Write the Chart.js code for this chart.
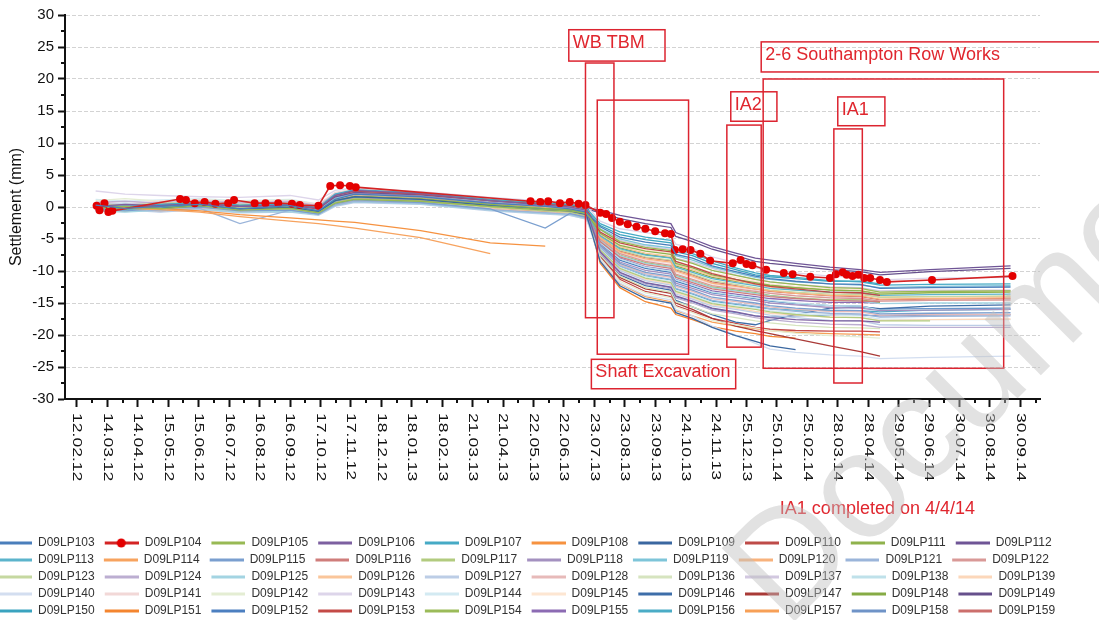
<!DOCTYPE html>
<html>
<head>
<meta charset="utf-8">
<title>D09LP settlement monitoring</title>
<script src="https://cdn.jsdelivr.net/npm/chart.js"></script>
<style>
  html, body { margin: 0; padding: 0; background: #fff; overflow: hidden; }
  #wrap { position: relative; width: 1099px; height: 620px; overflow: hidden; }
  #settlementChart { position: absolute; left: -12px; top: 0; }
</style>
</head>
<body>
<div id="wrap"><canvas id="settlementChart" width="1111" height="627"></canvas></div>
<script>
/** x axis: days after 12.02.12, one labelled tick every 31 days */
const tickStepDays = 31;
const tickLabels = [
    "12.02.12", "14.03.12", "14.04.12", "15.05.12", "15.06.12", "16.07.12", "16.08.12", "16.09.12",
    "17.10.12", "17.11.12", "18.12.12", "18.01.13", "18.02.13", "21.03.13", "21.04.13", "22.05.13",
    "22.06.13", "23.07.13", "23.08.13", "23.09.13", "24.10.13", "24.11.13", "25.12.13", "25.01.14",
    "25.02.14", "28.03.14", "28.04.14", "29.05.14", "29.06.14", "30.07.14", "30.08.14", "30.09.14",
];

/** survey dates (days after 12.02.12) shared by the levelling points */
const readingDays = [19, 49, 85, 125, 166, 217, 246, 263, 283, 350, 421, 477, 502, 519, 533, 553, 579, 605, 610, 627, 647, 671, 691, 706, 732, 767, 798, 818, 869, 951];

/** settlement (mm) per point */
const lp103 = [0.3, -0.2, 0.1, 0.4, -0.3, 0.2, -0.6, 1.2, 2.0, 1.6, 0.6, 0.1, -0.3, -0.8, -3.1, -4.7, -5.5, -6.0, -7.4, -8.0, -9.2, -10.1, -10.8, -11.2, -11.6, -12.0, -12.1, -12.7, -12.6, -12.5];
const lp105 = [-0.2, 0.1, -0.3, 0.2, -0.5, -0.2, -0.9, 0.6, 1.2, 0.9, 0.1, -0.4, -0.6, -1.0, -3.5, -5.4, -6.3, -6.8, -8.1, -8.8, -9.9, -10.7, -11.3, -11.7, -12.1, -12.6, -12.7, -13.3, -13.2, -13.1];
const lp106 = [0.1, 0.4, 0.2, 0.5, 0.1, 0.3, -0.2, 1.8, 2.6, 2.1, 1.0, 0.3, 0.0, -0.5, -7.0, -10.2, -11.8, -12.5, -13.9, -14.7, -15.8, -16.4, -17.0, -17.3, -17.6, -17.8, -17.8, -18.0, null, null];
const lp107 = [0.3, 0.1, 0.4, 0.7, 0.3, 0.5, -0.1, 2.0, 2.7, 2.2, 1.2, 0.6, 0.4, -0.2, -2.6, -3.9, -4.7, -5.2, -6.6, -7.3, -8.4, -9.5, -10.3, -10.7, -11.0, -11.5, -11.7, -12.2, -12.1, -12.0];
const lp108 = [0.2, -0.1, -0.2, -0.6, -1.2, -1.7, -2.0, -2.2, -2.4, -3.7, -5.6, -6.1, null, null, null, null, null, null, null, null, null, null, null, null, null, null, null, null, null, null];
const lp109 = [-0.1, 0.1, -0.2, 0.2, -0.3, -0.1, -0.7, 1.0, 1.6, 1.2, 0.2, -0.4, -0.6, -1.2, -8.5, -12.3, -14.3, -15.0, -16.5, -17.4, -18.8, -20.1, -21.0, -21.7, -22.3, null, null, null, null, null];
const lp110 = [0.2, 0.0, 0.2, 0.6, 0.1, 0.3, -0.3, 1.8, 2.5, 2.0, 1.0, 0.4, 0.2, -0.3, -3.9, -5.6, -6.5, -7.0, -8.5, -9.3, -10.4, -11.3, -12.0, -12.4, -12.8, -13.3, -13.4, -13.8, null, null];
const lp111 = [0.0, -0.3, 0.1, 0.3, -0.2, 0.0, -0.6, 1.0, 1.7, 1.3, 0.4, -0.2, -0.4, -0.9, -4.1, -6.0, -6.9, -7.4, -8.8, -9.5, -10.6, -11.3, -11.8, -12.2, -12.6, -13.0, -13.1, -13.6, -13.4, -13.3];
const lp112 = [0.2, 0.0, 0.3, 0.6, 0.2, 0.4, -0.2, 1.6, 2.3, 1.9, 1.0, 0.5, 0.4, -0.1, -0.5, -1.3, -2.0, -2.6, -4.0, -5.0, -6.2, -7.2, -8.0, -8.3, -8.8, -9.4, -9.8, -10.2, -9.8, -9.2];
const lp113 = [-0.1, -0.4, -0.1, 0.2, -0.3, -0.1, -0.7, 0.9, 1.6, 1.2, 0.3, -0.3, -0.5, -1.1, -4.5, -6.5, -7.5, -8.0, -9.4, -10.2, -11.2, -11.8, -12.3, -12.7, -13.0, -13.3, -13.4, -13.8, -13.7, -13.6];
const lp114 = [0.0, -0.3, -0.4, -0.8, -1.5, -2.2, -2.6, -2.9, -3.3, -4.8, -7.3, null, null, null, null, null, null, null, null, null, null, null, null, null, null, null, null, null, null, null];
const lp115 = [-0.3, -0.6, -0.2, 0.0, -0.6, -0.5, -1.1, 0.5, 1.1, 0.7, -0.3, -3.3, -1.0, -1.6, -6.0, -8.8, -10.2, -10.8, -12.2, -13.0, -14.1, -14.6, -15.0, -15.4, -15.8, -16.1, -16.2, -16.7, -16.6, -16.5];
const lp116 = [0.3, 0.1, 0.4, 0.6, 0.2, 0.5, -0.1, 1.9, 2.6, 2.0, 1.1, 0.5, 0.3, -0.3, -5.4, -7.8, -9.0, -9.6, -11.0, -11.8, -12.8, -13.3, -13.7, -14.0, -14.3, -14.6, -14.7, -14.8, null, null];
const lp117 = [-0.2, -0.4, -0.1, 0.1, -0.4, -0.3, -0.9, 0.7, 1.3, 0.9, 0.0, -0.6, -0.8, -1.4, -6.7, -9.6, -11.1, -11.8, -13.2, -14.0, -15.1, -15.6, -16.0, -16.4, -16.8, -17.2, -17.3, -17.8, -17.8, null];
const lp118 = [0.2, -0.1, 0.3, 0.5, 0.1, 0.3, -0.3, 1.6, 2.2, 1.7, 0.7, 0.1, -0.1, -0.7, -5.9, -8.6, -9.9, -10.5, -11.9, -12.7, -13.7, -14.2, -14.6, -15.0, -15.3, -15.7, -15.8, -16.2, -16.1, -16.0];
const lp119 = [-0.1, 0.2, 0.0, 0.3, -0.2, 0.1, -0.5, 1.4, 2.1, 1.7, 0.7, 0.2, -0.1, -0.7, -3.4, -5.0, -5.9, -6.4, -7.6, -8.3, -9.4, -10.3, -11.0, -11.3, -11.7, -12.0, -12.2, -12.6, -12.4, -12.3];
const lp120 = [0.1, 0.3, 0.0, 0.4, 0.1, 0.2, -0.4, 1.3, 2.0, 1.5, 0.6, 0.0, -0.2, -0.8, -4.8, -7.0, -8.1, -8.6, -10.0, -10.8, -11.9, -12.4, -12.8, -13.1, -13.5, -13.8, -13.9, -14.4, -14.3, -14.2];
const lp121 = [-0.5, -0.3, -0.6, -0.2, -2.6, -0.5, -1.1, 0.3, 0.9, 0.6, -0.4, -0.9, -1.1, -1.7, -6.3, -9.2, -10.6, -11.3, -12.7, -13.5, -14.6, -15.1, -15.5, -15.9, -16.3, -16.6, -16.7, -17.2, -17.1, -17.0];
const lp122 = [-0.2, 0.0, -0.3, 0.1, -0.4, -0.2, -0.8, 0.8, 1.5, 1.1, 0.2, -0.4, -0.6, -1.2, -5.0, -7.3, -8.5, -9.1, -10.5, -11.3, -12.3, -12.8, -13.2, -13.5, -13.9, -14.2, -14.3, -14.7, -14.6, -14.5];
const lp123 = [0.5, 0.3, 0.6, 0.8, 0.4, 0.6, 0.0, 1.9, 2.4, 1.9, 0.9, 0.3, 0.1, -0.5, -4.6, -6.7, -7.8, -8.3, -9.7, -10.5, -11.5, -12.1, -12.6, -13.0, -13.3, -13.6, -13.7, -14.1, -14.0, -13.9];
const lp124 = [0.7, 0.9, 0.6, 0.9, 0.6, 0.8, 0.2, 2.0, 2.5, 2.0, 1.0, 0.4, 0.2, -0.4, -7.2, -10.4, -12.1, -12.8, -14.2, -15.0, -16.1, -16.7, -17.3, -17.6, -18.0, -18.3, -18.4, -18.8, -18.8, -18.8];
const lp125 = [-0.6, -0.8, -0.5, -0.3, -0.8, -0.7, -1.2, 0.2, 0.8, 0.5, -0.5, -1.0, -1.2, -1.8, -5.2, -7.6, -8.8, -9.4, -10.8, -11.6, -12.6, -13.1, -13.5, -13.9, -14.3, -14.6, -14.7, -15.1, -15.0, -15.0];
const lp126 = [-0.5, -0.3, -0.6, -0.2, -0.7, -0.5, -1.1, 0.4, 1.0, 0.6, -0.3, -0.8, -1.0, -1.6, -4.3, -6.2, -7.2, -7.7, -9.0, -9.8, -10.8, -11.5, -12.1, -12.5, -13.0, -13.4, -13.5, -14.1, -14.0, -14.0];
const lp127 = [-0.7, -0.5, -0.8, -0.4, -0.9, -0.8, -1.3, 0.1, 0.7, 0.4, -0.6, -1.1, -1.3, -1.9, -6.9, -9.9, -11.5, -12.2, -13.6, -14.4, -15.5, -16.0, -16.5, -16.9, -17.3, -17.7, -17.8, -18.4, -18.5, -18.5];
const lp128 = [0.0, 0.2, -0.1, 0.3, -0.1, 0.1, -0.5, 1.2, 1.8, 1.4, 0.4, -0.2, -0.4, -1.0, -6.2, -9.0, -10.4, -11.0, -12.4, -13.2, -14.3, -14.8, -15.2, -15.6, -16.0, -16.3, -16.4, -16.9, -16.8, -16.8];
const lp136 = [-0.5, -0.7, -0.4, -0.2, -0.7, -0.6, -1.2, 0.3, 0.9, 0.5, -0.4, -1.0, -1.2, -1.8, -7.5, -10.8, -12.6, -13.3, -14.8, -15.6, -16.7, -17.3, -17.8, -18.1, -18.5, -18.8, -18.9, -19.0, null, null];
const lp137 = [0.6, 0.4, 0.8, 1.0, 0.7, 0.9, 0.2, 2.1, 2.6, 2.0, 1.1, 0.5, 0.2, -0.4, -3.6, -5.2, -6.1, -6.6, -8.0, -8.6, -9.6, -10.6, -11.3, -11.7, -12.1, -12.5, -12.6, -13.1, -13.0, -13.0];
const lp138 = [0.4, 0.6, 0.3, 0.7, 0.4, 0.5, -0.1, 1.7, 2.3, 1.8, 0.8, 0.3, 0.1, -0.5, -5.6, -8.1, -9.4, -10.0, -11.4, -12.2, -13.3, -13.8, -14.2, -14.6, -15.0, -15.4, -15.5, -16.1, -16.0, -16.0];
const lp139 = [0.3, 0.5, 0.2, 0.6, 0.3, 0.4, -0.2, 1.5, 2.1, 1.6, 0.6, 0.0, -0.2, -0.8, -6.8, -9.8, -11.3, -12.0, -13.4, -14.2, -15.3, -15.8, -16.3, -16.6, -16.9, -17.2, -17.3, -17.7, -17.6, -17.5];
const lp140 = [-0.6, -0.4, -0.7, -0.3, -0.8, -0.6, -1.2, 0.2, 0.8, 0.5, -0.5, -1.0, -1.3, -1.9, -8.2, -11.9, -13.8, -14.5, -16.0, -17.0, -18.6, -20.0, -21.3, -22.2, -22.7, -23.1, -23.3, -23.7, -23.5, -23.3];
const lp141 = [0.8, 0.5, 0.9, 1.1, 0.8, 1.0, 0.4, 2.3, 2.8, 2.2, 1.2, 0.6, 0.4, -0.2, -4.9, -7.2, -8.3, -8.8, -10.2, -11.0, -12.0, -12.6, -13.0, -13.4, -13.8, -14.1, -14.2, -14.7, -14.6, -14.6];
const lp142 = [1.0, 1.3, 0.9, 1.2, 0.9, 1.1, 0.4, 2.2, 2.6, 2.1, 1.1, 0.4, 0.2, -0.4, -8.0, -11.6, -13.4, -14.2, -15.6, -16.5, -17.7, -18.4, -18.9, -19.3, -19.7, -20.1, -20.3, -20.5, null, null];
const lp143 = [2.5, 2.0, 1.8, 1.6, 1.5, 1.8, 1.1, 2.6, 3.0, 2.4, 1.5, 0.9, 0.7, 0.2, -2.2, -3.4, -4.0, -4.5, -5.8, -6.5, -7.8, -8.7, -9.5, -9.9, -10.3, -10.8, -11.0, -11.4, -11.1, -11.0];
const lp144 = [1.2, 0.9, 1.1, 1.3, 1.0, 1.2, 0.5, 2.0, 2.4, 1.9, 0.9, 0.2, -0.1, -0.8, -6.5, -9.4, -10.9, -11.6, -13.0, -13.8, -14.9, -15.4, -15.8, -16.2, -16.6, -16.9, -17.0, -17.5, -17.6, -17.6];
const lp145 = [-0.4, -0.6, -0.3, 0.0, -0.5, -0.4, -1.0, 0.5, 1.1, 0.8, -0.1, -0.6, -0.9, -1.4, -4.0, -5.9, -6.7, -7.2, -8.6, -9.3, -10.3, -11.0, -11.6, -12.0, -12.4, -12.8, -12.9, -13.4, -13.3, -13.2];
const lp146 = [0.0, -0.3, 0.1, 0.3, -0.2, 0.0, -0.6, 1.1, 1.8, 1.4, 0.4, -0.2, -0.4, -1.0, -7.4, -10.6, -12.3, -13.0, -14.6, -15.6, -16.8, -18.0, -18.4, -17.7, -16.8, -15.8, -15.6, -15.9, -15.5, -15.3];
const lp147 = [0.2, 0.0, 0.3, 0.5, 0.1, 0.3, -0.3, 1.7, 2.4, 1.9, 0.9, 0.3, 0.1, -0.5, -7.6, -11.0, -12.8, -13.5, -15.0, -16.0, -17.4, -18.6, -19.3, -19.8, -20.6, -21.7, -22.6, -23.3, null, null];
const lp148 = [0.2, 0.4, 0.1, 0.5, 0.2, 0.3, -0.2, 1.5, 2.2, 1.7, 0.8, 0.2, 0.0, -0.6, -4.4, -6.4, -7.4, -7.9, -9.2, -10.0, -11.0, -11.6, -12.0, -12.3, -12.6, -12.9, -13.0, -13.4, -13.2, -13.1];
const lp149 = [0.0, 0.3, 0.1, 0.5, 0.3, 0.2, -0.3, 1.9, 2.5, 2.0, 0.9, 0.4, 0.2, -0.3, -0.9, -1.8, -2.6, -3.2, -4.6, -5.4, -6.6, -7.6, -8.5, -8.8, -9.2, -9.8, -10.1, -10.6, -10.1, -9.6];
const lp150 = [0.1, -0.2, 0.2, 0.5, 0.0, 0.3, -0.3, 1.7, 2.4, 1.9, 0.9, 0.3, 0.1, -0.5, -2.9, -4.3, -5.1, -5.6, -7.0, -7.6, -8.8, -9.8, -10.6, -10.9, -11.2, -11.6, -11.6, -12.0, null, null];
const lp151 = [0.0, -0.2, 0.1, 0.4, -0.1, 0.1, -0.5, 1.2, 1.8, 1.4, 0.4, -0.2, -0.4, -1.0, -8.8, -12.6, -14.8, -15.8, -16.8, -17.6, -18.7, -19.4, -19.8, -20.2, -20.5, null, null, null, null, null];
const lp152 = [-0.1, 0.1, -0.2, 0.2, -0.3, -0.1, -0.7, 1.0, 1.7, 1.3, 0.3, -0.3, -0.5, -1.1, -5.7, -8.3, -9.6, -10.2, -11.6, -12.4, -13.4, -13.9, -14.3, -14.7, -15.1, -15.4, -15.5, -16.0, -15.9, -15.8];
const lp153 = [-0.3, -0.5, -0.2, 0.1, -0.4, -0.3, -0.9, 0.6, 1.2, 0.8, -0.1, -0.7, -0.9, -1.5, -7.8, -11.3, -13.2, -14.0, -15.4, -16.3, -17.4, -18.2, -18.8, -19.1, -19.3, -19.4, -19.4, -19.5, null, null];
const lp154 = [0.0, 0.2, -0.1, 0.3, 0.0, 0.1, -0.5, 1.2, 1.9, 1.4, 0.5, -0.1, -0.3, -0.9, -5.1, -7.5, -8.7, -9.3, -10.7, -11.5, -12.5, -13.0, -13.4, -13.8, -14.2, -14.5, -14.5, -14.9, null, null];
const lp155 = [-0.4, -0.2, -0.5, -0.1, -0.6, -0.4, -1.0, 0.6, 1.3, 0.9, 0.0, -0.6, -0.8, -1.4, -5.5, -8.0, -9.3, -9.9, -11.3, -12.1, -13.1, -13.6, -14.0, -14.3, -14.6, -14.9, -14.9, -15.0, null, null];
const lp156 = [0.1, -0.1, 0.2, 0.4, 0.0, 0.2, -0.4, 1.3, 1.9, 1.5, 0.5, -0.1, -0.3, -0.9, -6.4, -9.3, -10.8, -11.4, -12.8, -13.6, -14.7, -15.2, -15.6, -15.9, -16.1, -16.2, -16.2, -16.4, -16.1, -16.0];
const lp157 = [0.4, 0.2, 0.5, 0.7, 0.3, 0.5, -0.1, 1.8, 2.4, 1.9, 0.9, 0.3, 0.1, -0.5, -8.3, -12.0, -14.0, -14.8, -16.2, -17.0, -18.0, -18.6, -19.0, -19.3, -19.6, -19.8, -19.9, -20.0, null, null];
const lp158 = [-0.2, 0.0, -0.3, 0.1, -0.4, -0.2, -0.8, 0.9, 1.5, 1.1, 0.2, -0.4, -0.6, -1.2, -7.1, -10.3, -11.9, -12.6, -14.0, -14.8, -15.9, -16.5, -17.0, -17.2, -17.0, -16.9, -16.9, -17.0, -16.9, -16.8];
const lp159 = [-0.3, -0.1, -0.4, 0.0, -0.5, -0.3, -0.8, 0.7, 1.4, 1.0, 0.1, -0.4, -0.7, -1.2, -4.7, -6.9, -7.9, -8.4, -9.8, -10.6, -11.7, -12.3, -12.9, -13.2, -13.5, -13.9, -14.0, -14.5, -14.4, -14.3];

/** D09LP104 was read more often: its own dates and values */
const lp104Days = [20, 23, 28, 32, 36, 105, 111, 120, 130, 141, 154, 160, 181, 192, 205, 219, 227, 246, 258, 268, 278, 284, 462, 472, 480, 492, 502, 511, 518, 533, 539, 545, 553, 561, 570, 579, 589, 599, 605, 609, 617, 625, 635, 645, 668, 676, 682, 688, 702, 720, 729, 747, 767, 773, 780, 784, 790, 796, 802, 808, 818, 825, 871, 953];
const lp104 = [0.2, -0.5, 0.6, -0.8, -0.6, 1.25, 1.1, 0.6, 0.8, 0.5, 0.6, 1.1, 0.6, 0.6, 0.6, 0.5, 0.3, 0.2, 3.3, 3.4, 3.3, 3.1, 0.9, 0.8, 0.9, 0.6, 0.8, 0.5, 0.3, -0.9, -1.1, -1.7, -2.3, -2.7, -3.1, -3.4, -3.8, -4.1, -4.2, -6.7, -6.6, -6.7, -7.3, -8.4, -8.8, -8.3, -8.9, -9.1, -9.8, -10.3, -10.5, -10.9, -11.1, -10.5, -10.2, -10.6, -10.8, -10.6, -11.1, -11.1, -11.4, -11.7, -11.4, -10.8];

const seriesNames = [
    "D09LP103", "D09LP104", "D09LP105", "D09LP106", "D09LP107", "D09LP108", "D09LP109", "D09LP110", "D09LP111", "D09LP112",
    "D09LP113", "D09LP114", "D09LP115", "D09LP116", "D09LP117", "D09LP118", "D09LP119", "D09LP120", "D09LP121", "D09LP122",
    "D09LP123", "D09LP124", "D09LP125", "D09LP126", "D09LP127", "D09LP128", "D09LP136", "D09LP137", "D09LP138", "D09LP139",
    "D09LP140", "D09LP141", "D09LP142", "D09LP143", "D09LP144", "D09LP145", "D09LP146", "D09LP147", "D09LP148", "D09LP149",
    "D09LP150", "D09LP151", "D09LP152", "D09LP153", "D09LP154", "D09LP155", "D09LP156", "D09LP157", "D09LP158", "D09LP159",
];
const seriesValues = [
    lp103, lp104, lp105, lp106, lp107, lp108, lp109, lp110, lp111, lp112,
    lp113, lp114, lp115, lp116, lp117, lp118, lp119, lp120, lp121, lp122,
    lp123, lp124, lp125, lp126, lp127, lp128, lp136, lp137, lp138, lp139,
    lp140, lp141, lp142, lp143, lp144, lp145, lp146, lp147, lp148, lp149,
    lp150, lp151, lp152, lp153, lp154, lp155, lp156, lp157, lp158, lp159,
];
const seriesColors = [
    "#4a7ebb", "#d42424", "#98b954", "#7d60a0", "#46aac5", "#f69240", "#3a67a0", "#be4b48", "#8fb24c", "#6f5596",
    "#5cb4cc", "#f7a35f", "#7a9fcf", "#cf7d7b", "#b2cb7f", "#a491c0", "#7ec5d9", "#f8b27c", "#9bb5da", "#d99997",
    "#c5d8a0", "#bcaed1", "#a3d4e2", "#fac59a", "#bccde6", "#e7bab9", "#d6e4bf", "#d2c8e0", "#bfe1ea", "#fcd7ba",
    "#d3def0", "#f2d8d7", "#e4edd3", "#ddd5ea", "#d3eaf2", "#fde6d2", "#3e6ea9", "#a93a37", "#86ab45", "#66508c",
    "#3aa3bf", "#f4852f", "#4c7fc0", "#c44a47", "#9bbb59", "#8c6bb3", "#4bacc6", "#f7a057", "#6f93c7", "#cc6f6c",
];

/** red frames drawn on the chart: [from day, to day, top mm, bottom mm] */
const frameSpans = [
    [501, 599, 27.7, 22.8],
    [518, 547, 22.5, -17.3],
    [530, 623, 16.7, -23.0],
    [524, 671, -23.8, -28.4],
    [666, 713, 18.0, 13.4],
    [662, 697, 12.8, -21.9],
    [697, 1060, 25.8, 21.1],
    [699, 944, 20.0, -25.2],
    [775, 823, 17.2, 12.7],
    [771, 800, 12.2, -27.5],
];
const frameTexts = ["WB TBM", "", "", "Shaft Excavation", "IA2", "", "2-6 Southampton Row Works", "", "IA1", ""];
const noteText = "IA1 completed on 4/4/14";
const notePosition = [716, -48];

Chart.defaults.font.family = "'Liberation Sans', Arial, sans-serif";
Chart.defaults.color = "#111";

/** Legend sample: short thick line (with a marker for LP104) */
function legendIcon(color, withDot) {
    const c = document.createElement("canvas");
    c.width = 39;
    c.height = 12;
    const g = c.getContext("2d");
    g.strokeStyle = color;
    g.lineWidth = 3;
    g.beginPath();
    g.moveTo(5, 6);
    g.lineTo(39, 6);
    g.stroke();
    if (withDot) {
        g.fillStyle = "#e30000";
        g.beginPath();
        g.arc(21.5, 6, 4.5, 0, Math.PI * 2);
        g.fill();
    }
    return c;
}

const datasets = seriesNames.map((name, i) => {
    const isMarked = name === "D09LP104";
    const days = isMarked ? lp104Days : readingDays;
    const values = seriesValues[i];
    return {
        label: name,
        data: days.map((d, k) => ({ x: d, y: values[k] })),
        borderColor: seriesColors[i],
        backgroundColor: seriesColors[i],
        borderWidth: isMarked ? 1.6 : 1.3,
        pointRadius: isMarked ? 4 : 0,
        pointBackgroundColor: "#e30000",
        pointBorderWidth: 0,
    };
});
const legendIcons = datasets.map((ds) => legendIcon(ds.borderColor, ds.label === "D09LP104"));

/** Minor ticks, rotated date labels, red frames and notes */
const decorPlugin = {
    id: "decor",
    afterDraw(chart) {
        const { ctx } = chart;
        const x = chart.scales.x;
        const y = chart.scales.y;
        ctx.save();

        ctx.strokeStyle = "#111";
        ctx.lineWidth = 2;
        ctx.beginPath();
        for (let v = y.min + 2.5; v < y.max; v += 5) {
            const py = Math.round(y.getPixelForValue(v));
            ctx.moveTo(x.left - 4, py);
            ctx.lineTo(x.left, py);
        }
        for (let d = tickStepDays / 2; d < x.max; d += tickStepDays) {
            const px = Math.round(x.getPixelForValue(d));
            ctx.moveTo(px, y.bottom);
            ctx.lineTo(px, y.bottom + 4);
        }
        ctx.stroke();

        ctx.fillStyle = "#111";
        ctx.font = "13px 'Liberation Sans', Arial, sans-serif";
        ctx.textAlign = "left";
        ctx.textBaseline = "middle";
        x.ticks.forEach((t, i) => {
            ctx.save();
            ctx.translate(x.getPixelForValue(t.value), y.bottom + 14);
            ctx.rotate(Math.PI / 2);
            ctx.scale(1.35, 1);
            ctx.fillText(tickLabels[i], 0, 0);
            ctx.restore();
        });

        ctx.strokeStyle = "#dc2430";
        ctx.lineWidth = 1.5;
        ctx.fillStyle = "#e0262e";
        ctx.font = "18px 'Liberation Sans', Arial, sans-serif";
        ctx.textBaseline = "alphabetic";
        frameSpans.forEach(([d0, d1, top, bottom], i) => {
            const x0 = x.getPixelForValue(d0);
            const x1 = x.getPixelForValue(d1);
            const y0 = y.getPixelForValue(top);
            const y1 = y.getPixelForValue(bottom);
            ctx.strokeRect(x0, y0, x1 - x0, y1 - y0);
            if (frameTexts[i]) ctx.fillText(frameTexts[i], x0 + 4, y0 + 18);
        });
        ctx.fillText(noteText, x.getPixelForValue(notePosition[0]), y.getPixelForValue(notePosition[1]));

        // faint diagonal watermark of the source document
        ctx.translate(798, 630);
        ctx.rotate(-Math.PI / 4);
        ctx.font = "150px 'Liberation Sans', Arial, sans-serif";
        ctx.fillStyle = "rgba(190, 190, 190, 0.45)";
        ctx.fillText("Document", 0, 0);

        ctx.restore();
    },
};

const ctx = document.getElementById("settlementChart").getContext("2d");
window.settlementChart = new Chart(ctx, {
    type: "line",
    data: { datasets },
    options: {
        responsive: false,
        animation: false,
        devicePixelRatio: 1,
        layout: { padding: { top: 15, left: 0, right: 0, bottom: 0 } },
        elements: { line: { tension: 0 } },
        plugins: {
            tooltip: { enabled: false },
            legend: {
                position: "bottom",
                align: "start",
                labels: {
                    usePointStyle: true,
                    pointStyleWidth: 39,
                    padding: 5,
                    color: "#333",
                    font: { size: 12 },
                    generateLabels(chart) {
                        return chart.data.datasets.map((ds, i) => ({
                            text: ds.label,
                            datasetIndex: i,
                            pointStyle: legendIcons[i],
                            fontColor: "#333",
                            fillStyle: ds.borderColor,
                            strokeStyle: ds.borderColor,
                            lineWidth: 0,
                            hidden: false,
                        }));
                    },
                },
            },
        },
        scales: {
            x: {
                type: "linear",
                min: -12.2,
                max: 981,
                afterBuildTicks(scale) {
                    scale.ticks = tickLabels.map((_, i) => ({ value: i * tickStepDays }));
                },
                afterFit(scale) {
                    scale.height = 133;
                },
                ticks: { display: false },
                grid: { drawOnChartArea: false, drawTicks: true, tickLength: 8, tickWidth: 2, tickColor: "#111" },
                border: { display: true, color: "#111", width: 2 },
            },
            y: {
                min: -30,
                max: 30,
                afterFit(scale) {
                    scale.width = 77;
                },
                ticks: { stepSize: 5, color: "#111", font: { size: 15 }, padding: 4 },
                grid: { color: "#d3d3d3", lineWidth: 1, tickLength: 7, tickWidth: 2, tickColor: "#111", tickBorderDash: [] },
                border: { display: true, color: "#111", width: 2, dash: [4, 2] },
                title: { display: true, text: "Settlement (mm)", color: "#111", font: { size: 16 }, padding: { top: 19, bottom: 0 } },
            },
            yRight: {
                position: "right",
                display: true,
                afterFit(scale) {
                    scale.width = 59;
                },
                grid: { display: false },
                ticks: { display: false },
                border: { display: false },
            },
        },
    },
    plugins: [decorPlugin],
});
</script>
</body>
</html>
